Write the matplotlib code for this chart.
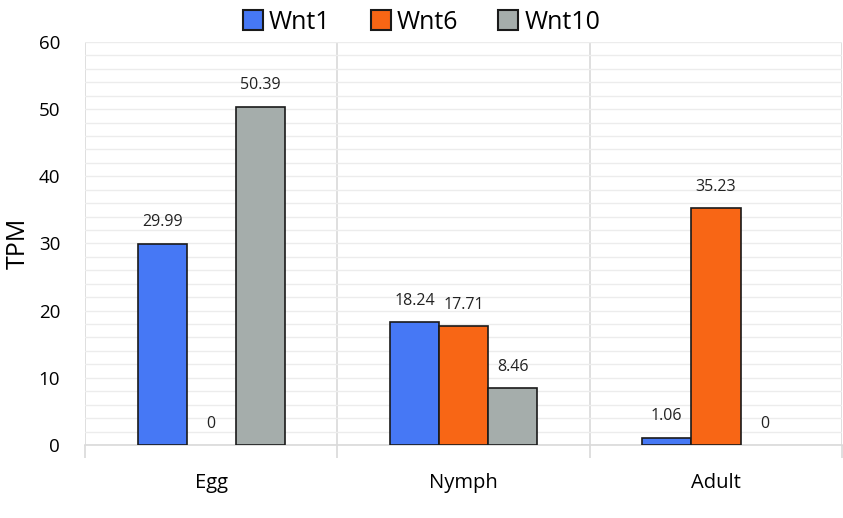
import matplotlib.pyplot as plt
import numpy as np

stages = ["Egg", "Nymph", "Adult"]
genes = ["Wnt1", "Wnt6", "Wnt10"]
wnt1 = [29.99, 18.24, 1.06]
wnt6 = [0, 17.71, 35.23]
wnt10 = [50.39, 8.46, 0]
colors = ["#4678F5", "#F86615", "#A5ADAB"]

plt.rcParams["font.family"] = ["Open Sans", "DejaVu Sans"]

fig = plt.figure(figsize=(8.43, 5.18), dpi=100)
ax = fig.add_axes([0.101, 0.141, 0.898, 0.778])

x = np.arange(len(stages))
w = 0.195
for i, (vals, name, c) in enumerate(zip([wnt1, wnt6, wnt10], genes, colors)):
    pos = x + (i - 1) * w
    # zero-height bars get no outline, like the original
    lws = [1.2 if v > 0 else 0 for v in vals]
    ax.bar(pos, vals, width=w, color=c, edgecolor="#1a1a1a", linewidth=lws,
           label=name, zorder=3)
    for p, v in zip(pos, vals):
        lbl = "0" if v == 0 else f"{v:.2f}"
        ax.text(p, v + 2.0, lbl, ha="center", va="bottom", fontsize=11.5, color="#222222")

ax.set_xlim(-0.5, 2.5)
ax.set_ylim(0, 60)
ax.set_yticks(range(0, 61, 10))
ax.set_yticks(range(0, 61, 2), minor=True)
ax.set_xticks(x)
ax.set_xticklabels(stages, fontsize=14.5)
ax.set_xticks([-0.5, 0.5, 1.5, 2.5], minor=True)
ax.tick_params(axis="x", which="major", length=0, pad=20)
ax.tick_params(axis="x", which="minor", length=9, color="#d9d9d9", width=1.2)
ax.tick_params(axis="y", which="both", length=0, labelsize=13.5, pad=18)
ax.grid(axis="y", which="both", color="#ececec", linewidth=1.0, zorder=0)
ax.grid(axis="x", which="minor", color="#d9d9d9", linewidth=1.2, zorder=0)
for s in ["top", "right", "left"]:
    ax.spines[s].set_visible(False)
ax.spines["bottom"].set_color("#d9d9d9")
ax.spines["bottom"].set_linewidth(1.2)
ax.set_ylabel("TPM", fontsize=18, labelpad=6)

leg = fig.legend(loc="upper center", bbox_to_anchor=(0.5, 1.025), ncol=3, frameon=False,
                 fontsize=18, handlelength=0.8, handleheight=0.9, columnspacing=1.6,
                 handletextpad=0.25)
for h in leg.legend_handles:
    h.set_linewidth(1.5)

fig.savefig("out.png", dpi=100)
